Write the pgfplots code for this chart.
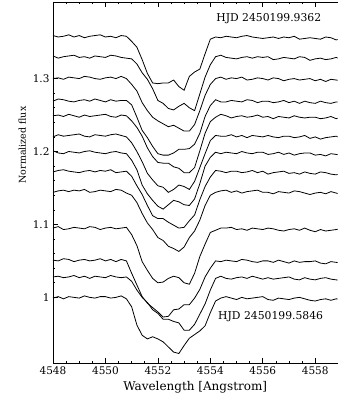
\documentclass[border=0pt]{standalone}
\usepackage{fontspec}
\setmainfont{DejaVu Serif}
\usepackage{pgfplots}
\usepackage{pgfplotstable}
\pgfplotsset{compat=1.18}
\pgfplotstableread{
l s1 s2 s3 s4 s5 s6 s7 s8 s9 s10 s11 s12 s13
4548.0 1.359 1.331 1.300 1.269 1.249 1.220 1.201 1.172 1.144 1.095 1.051 1.028 0.999
4548.2 1.357 1.328 1.301 1.272 1.250 1.223 1.198 1.174 1.146 1.097 1.050 1.029 1.001
4548.4 1.358 1.330 1.299 1.271 1.248 1.221 1.197 1.175 1.147 1.093 1.053 1.027 0.998
4548.6 1.360 1.331 1.302 1.269 1.251 1.222 1.200 1.173 1.145 1.094 1.052 1.028 1.001
4548.8 1.357 1.332 1.301 1.268 1.249 1.223 1.199 1.172 1.147 1.096 1.049 1.030 1.000
4549.0 1.359 1.329 1.300 1.270 1.247 1.224 1.198 1.171 1.146 1.095 1.051 1.027 0.999
4549.2 1.356 1.330 1.303 1.271 1.250 1.221 1.200 1.173 1.148 1.094 1.052 1.029 1.002
4549.4 1.358 1.328 1.302 1.269 1.248 1.220 1.201 1.174 1.144 1.097 1.050 1.026 1.000
4549.6 1.359 1.331 1.300 1.272 1.249 1.223 1.199 1.172 1.145 1.096 1.051 1.029 0.999
4549.8 1.360 1.330 1.299 1.270 1.250 1.222 1.198 1.174 1.147 1.093 1.053 1.028 1.001
4550.0 1.357 1.329 1.301 1.268 1.251 1.221 1.197 1.173 1.146 1.095 1.050 1.027 1.001
4550.2 1.358 1.332 1.302 1.271 1.248 1.223 1.199 1.175 1.145 1.096 1.052 1.030 0.999
4550.4 1.356 1.331 1.300 1.269 1.247 1.224 1.200 1.171 1.148 1.094 1.049 1.028 1.000
4550.6 1.359 1.329 1.303 1.270 1.250 1.222 1.198 1.172 1.147 1.095 1.052 1.027 1.002
4550.8 1.358 1.328 1.300 1.270 1.249 1.220 1.197 1.173 1.143 1.096 1.050 1.028 0.998
4551.0 1.351 1.327 1.292 1.264 1.242 1.212 1.188 1.166 1.140 1.086 1.033 1.022 0.987
4551.2 1.343 1.320 1.283 1.247 1.233 1.200 1.175 1.153 1.130 1.071 1.017 1.010 0.962
4551.4 1.326 1.308 1.267 1.229 1.221 1.186 1.154 1.141 1.115 1.049 1.001 1.000 0.948
4551.6 1.307 1.299 1.256 1.219 1.205 1.170 1.142 1.126 1.102 1.037 0.992 0.993 0.943
4551.8 1.294 1.286 1.247 1.207 1.193 1.161 1.133 1.112 1.093 1.026 0.986 0.983 0.946
4552.0 1.293 1.270 1.242 1.197 1.185 1.153 1.125 1.108 1.082 1.020 0.980 0.978 0.943
4552.2 1.294 1.266 1.238 1.195 1.184 1.151 1.121 1.108 1.078 1.021 0.973 0.970 0.939
4552.4 1.294 1.259 1.234 1.195 1.184 1.144 1.127 1.103 1.070 1.026 0.974 0.970 0.932
4552.6 1.298 1.257 1.236 1.198 1.179 1.148 1.133 1.099 1.067 1.029 0.983 0.967 0.925
4552.8 1.289 1.262 1.232 1.203 1.177 1.154 1.131 1.095 1.063 1.027 0.984 0.965 0.923
4553.0 1.284 1.266 1.228 1.203 1.171 1.152 1.127 1.096 1.069 1.020 0.990 0.955 0.934
4553.2 1.303 1.260 1.228 1.204 1.171 1.148 1.126 1.105 1.082 1.018 0.990 0.955 0.944
4553.4 1.309 1.256 1.237 1.210 1.178 1.159 1.135 1.113 1.091 1.033 0.999 0.963 0.949
4553.6 1.313 1.279 1.256 1.225 1.201 1.178 1.156 1.134 1.106 1.056 1.011 0.977 0.954
4553.8 1.334 1.302 1.277 1.248 1.225 1.197 1.180 1.152 1.126 1.073 1.028 0.991 0.961
4554.0 1.354 1.319 1.292 1.263 1.241 1.215 1.192 1.165 1.140 1.089 1.040 1.010 0.979
4554.2 1.357 1.330 1.300 1.271 1.247 1.222 1.199 1.174 1.144 1.092 1.050 1.026 0.995
4554.4 1.356 1.332 1.302 1.268 1.251 1.221 1.197 1.173 1.146 1.095 1.049 1.029 0.999
4554.6 1.358 1.329 1.299 1.268 1.249 1.221 1.199 1.171 1.147 1.095 1.051 1.026 1.001
4554.8 1.357 1.328 1.301 1.270 1.246 1.223 1.198 1.173 1.144 1.096 1.050 1.025 0.999
4555.0 1.356 1.327 1.300 1.269 1.248 1.220 1.197 1.173 1.146 1.093 1.049 1.027 0.997
4555.2 1.358 1.329 1.302 1.268 1.249 1.222 1.200 1.171 1.143 1.094 1.052 1.028 1.000
4555.4 1.359 1.330 1.298 1.271 1.247 1.219 1.198 1.172 1.145 1.092 1.051 1.026 0.998
4555.6 1.357 1.328 1.299 1.270 1.248 1.222 1.197 1.174 1.146 1.095 1.049 1.029 0.999
4555.8 1.356 1.330 1.301 1.267 1.250 1.221 1.199 1.171 1.147 1.094 1.048 1.027 1.000
4556.0 1.355 1.329 1.300 1.269 1.247 1.220 1.199 1.173 1.144 1.093 1.050 1.025 1.001
4556.2 1.356 1.330 1.298 1.269 1.248 1.222 1.196 1.169 1.144 1.095 1.050 1.027 0.997
4556.4 1.357 1.326 1.301 1.267 1.245 1.220 1.197 1.171 1.142 1.094 1.048 1.025 0.996
4556.6 1.355 1.327 1.300 1.268 1.248 1.219 1.199 1.172 1.145 1.092 1.051 1.026 0.999
4556.8 1.357 1.329 1.297 1.270 1.247 1.221 1.196 1.173 1.144 1.091 1.049 1.027 0.998
4557.0 1.356 1.328 1.299 1.267 1.246 1.221 1.198 1.170 1.143 1.093 1.047 1.028 0.997
4557.2 1.358 1.327 1.300 1.269 1.249 1.219 1.195 1.171 1.146 1.094 1.050 1.025 0.999
4557.4 1.354 1.330 1.298 1.266 1.247 1.220 1.197 1.169 1.145 1.092 1.048 1.024 1.000
4557.6 1.355 1.329 1.299 1.269 1.246 1.222 1.198 1.172 1.143 1.095 1.049 1.027 0.998
4557.8 1.356 1.325 1.300 1.267 1.247 1.218 1.198 1.170 1.141 1.092 1.049 1.025 0.996
4558.0 1.355 1.327 1.297 1.266 1.247 1.220 1.195 1.169 1.143 1.090 1.050 1.024 0.995
4558.2 1.354 1.328 1.299 1.269 1.245 1.217 1.196 1.172 1.144 1.093 1.047 1.026 0.997
4558.4 1.357 1.326 1.296 1.267 1.246 1.219 1.194 1.171 1.142 1.091 1.046 1.027 0.998
4558.6 1.356 1.327 1.299 1.266 1.248 1.220 1.197 1.169 1.145 1.092 1.049 1.025 0.996
4558.8 1.353 1.329 1.298 1.268 1.245 1.221 1.196 1.168 1.143 1.093 1.048 1.024 0.998
4559.0 1.355 1.326 1.297 1.268 1.247 1.218 1.195 1.170 1.141 1.094 1.047 1.023 0.997
}\spectra
\begin{document}
\begin{tikzpicture}
\pgfplotsset{
  common/.style={
    width=284.5pt, height=361pt, scale only axis,
    xmin=4548, xmax=4558.85, ymin=0.91, ymax=1.405,
    xtick={4548,4550,4552,4554,4556,4558},
    minor x tick num=3,
    ytick={1,1.1,1.2,1.3},
    minor y tick num=4,
    tick align=inside,
    major tick length=5pt, minor tick length=2.5pt,
    axis line style={-, line width=0.7pt},
    every outer x axis line/.append style={-},
    every outer y axis line/.append style={-},
    every tick/.style={black, line width=0.6pt},
    /pgf/number format/1000 sep={},
    /pgf/number format/assume math mode=true,
    tick label style={font=\fontsize{10.5}{12}\selectfont},
  }
}
\begin{axis}[common, name=main,
  axis x line*=bottom, axis y line*=left,
  xlabel={Wavelength [Angstrom]},
  ylabel={Normalized flux},
  xlabel style={font=\fontsize{12}{14}\selectfont},
  ylabel style={font=\fontsize{9.5}{11}\selectfont, at={(ticklabel cs:0.604)}},
]
\pgfplotsinvokeforeach{1,...,13}{
  \addplot[black, line width=0.8pt] table[x=l, y=s#1] {\spectra};
}
\node[font=\fontsize{10.8}{12}\selectfont] at (axis cs:4556.23,1.382) {HJD 2450199.9362};
\node[font=\fontsize{10.8}{12}\selectfont] at (axis cs:4556.3,0.974) {HJD 2450199.5846};
\end{axis}
\begin{axis}[common,
  axis x line*=top, axis y line=none,
  xticklabels={},
]
\end{axis}
\pgfresetboundingbox
\path[use as bounding box] ([xshift=-53pt,yshift=-41pt]main.south west) rectangle ([xshift=1.5pt,yshift=2pt]main.north east);
\end{tikzpicture}
\end{document}
